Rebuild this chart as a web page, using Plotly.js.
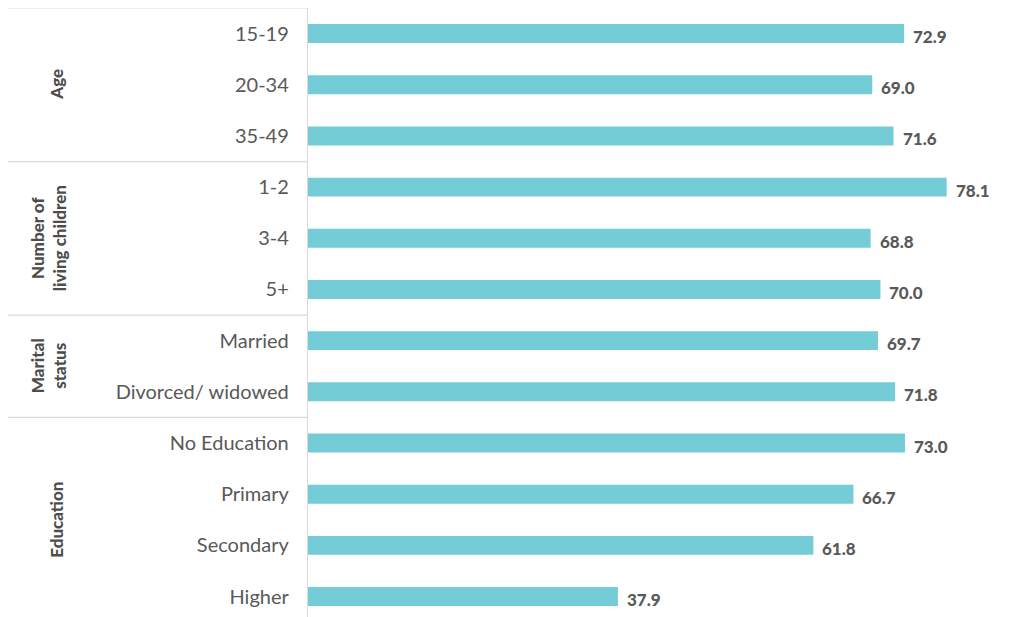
<!DOCTYPE html>
<html><head><meta charset="utf-8">
<script src="https://cdn.plot.ly/plotly-3.0.1.min.js"></script>
<style>html,body{margin:0;padding:0;background:#fff}</style>
</head><body>
<div id="chart" style="width:1026px;height:617px"></div>
<script>
const categories = ["15-19","20-34","35-49","1-2","3-4","5+","Married","Divorced/ widowed","No Education","Primary","Secondary","Higher"];
const values = [72.9, 69.0, 71.6, 78.1, 68.8, 70.0, 69.7, 71.8, 73.0, 66.7, 61.8, 37.9];
const groupNames = ["Age","Number of<br>living children","Marital<br>status","Education"];
const groupStart = [0, 3, 6, 8];
const groupEnd = [2, 5, 7, 11];

const FONT = "Lato, 'Open Sans', sans-serif";
const BFONT = "Lato, 'Open Sans', sans-serif";
const yIdx = categories.map((c,i)=>i);

const trace = {
  type: 'bar', orientation: 'h',
  x: values, y: yIdx,
  marker: {color: '#74CDD6'},
  width: 0.37,
  hoverinfo: 'x+y'
};

const annotations = values.map((v,i)=>({
  x: v, y: i, xref:'x', yref:'y',
  text: v.toFixed(1), showarrow:false,
  xanchor:'left', yanchor:'middle', xshift: 7, yshift: -3,
  font:{family:BFONT, size:17, color:'#595959', weight:900}
}));
groupNames.forEach((g,k)=>{
  annotations.push({
    x: 0, xref:'paper', y:(groupStart[k]+groupEnd[k])/2, yref:'y',
    xshift: g.includes('<br>') ? -260 : -251,
    text: g, showarrow:false, textangle:-90,
    xanchor:'center', yanchor:'middle',
    font:{family:BFONT, size:17, color:'#4d4d4d', weight:900}
  });
});

const shapes = [];
const bounds = [-0.5].concat(groupEnd.slice(0,3).map(e=>e+0.5));
bounds.forEach(b=>{
  shapes.push({type:'line', xref:'paper', yref:'y', x0:-0.418, x1:0, y0:b, y1:b,
    line:{color:'#d9d9d9', width:1.2}});
});

const layout = {
  width:1026, height:617,
  margin:{l:308, r:0, t:8, b:0},
  paper_bgcolor:'#fff', plot_bgcolor:'#fff',
  showlegend:false,
  xaxis:{range:[0, 87.8], showgrid:false, zeroline:false, showticklabels:false, showline:false, fixedrange:true},
  yaxis:{
    range:[11.4, -0.5], tickmode:'array', tickvals:yIdx, ticktext:categories,
    showgrid:false, zeroline:false, showline:true, linecolor:'#d9d9d9', linewidth:1.2,
    ticks:'', ticklabelstandoff:14,
    tickfont:{family:FONT, size:20, color:'#595959'}
  },
  annotations: annotations,
  shapes: shapes
};
Plotly.newPlot('chart', [trace], layout, {displayModeBar:false, staticPlot:true});
</script>
</body></html>
